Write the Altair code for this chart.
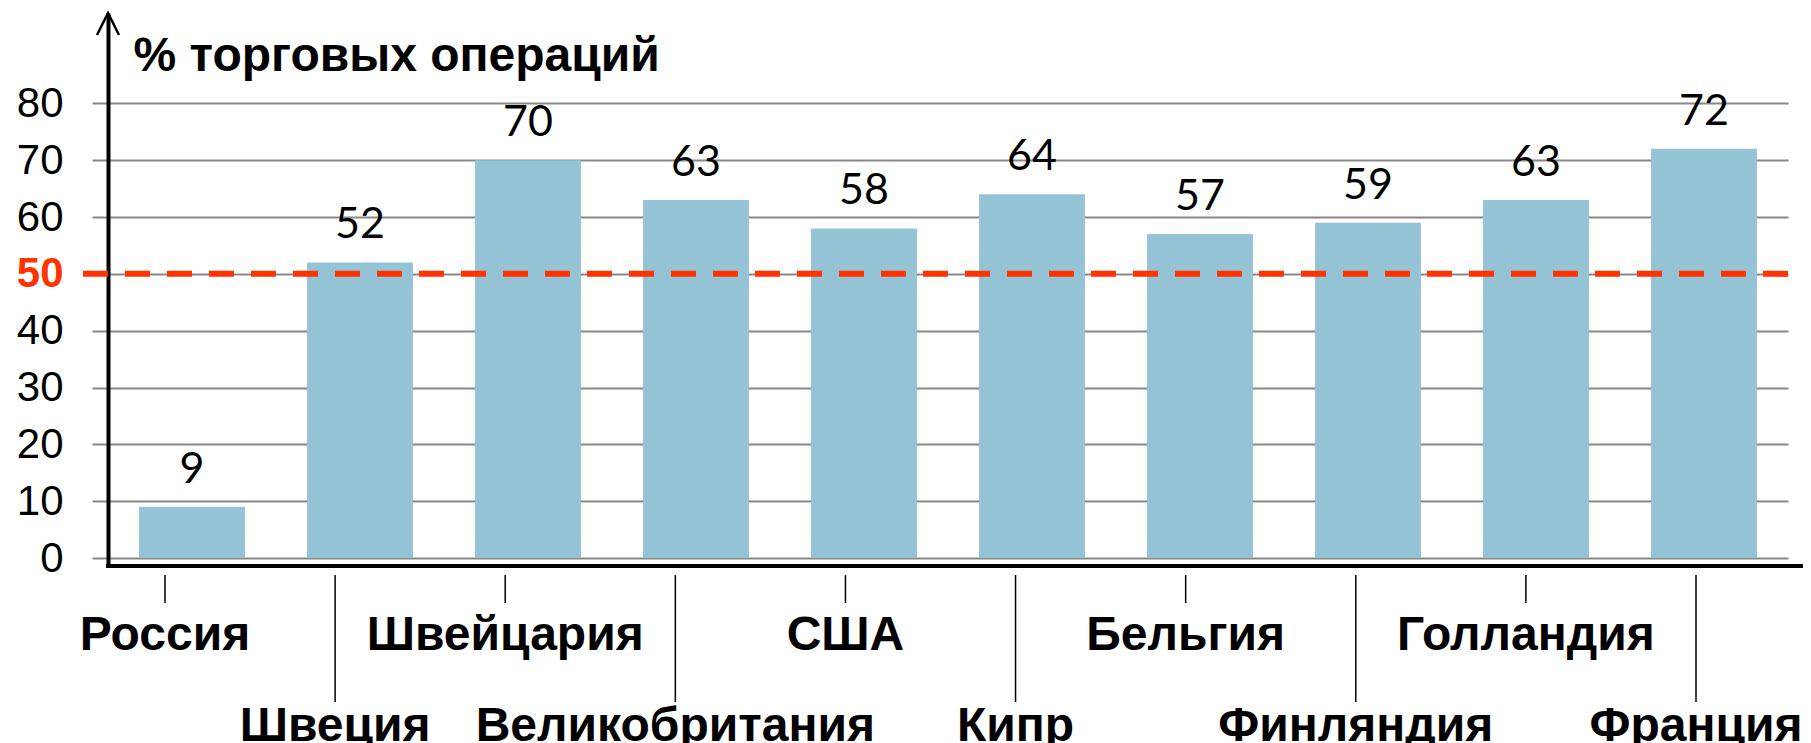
import altair as alt
import pandas as pd

countries = ["Россия", "Швеция", "Швейцария", "Великобритания", "США",
             "Кипр", "Бельгия", "Финляндия", "Голландия", "Франция"]
values = [9, 52, 70, 63, 58, 64, 57, 59, 63, 72]
label_rows = [1, 2, 1, 2, 1, 2, 1, 2, 1, 2]
y_ticks = [0, 10, 20, 30, 40, 50, 60, 70, 80]
threshold = [50]
y_title = "% торговых операций"

df = pd.DataFrame({"country": countries, "value": values, "row": label_rows})
thr = pd.DataFrame({"value": threshold})
one = pd.DataFrame({"k": [0]})

W, H = 1680, 552
BAR = "#93C3D5"
RED = "#FF3300"
LABEL_FONT = "Liberation Sans"

xscale = alt.Scale(domain=countries, paddingInner=0.37, paddingOuter=0.185)
# category ticks / names sit on a slightly wider, hand-drawn spacing
tick_scale = alt.Scale(type="point", domain=countries, range=[57, 1588], padding=0)
yscale = alt.Scale(domain=[-1.23, 95.9], nice=False, zero=False)

yaxis = alt.Axis(
    values=y_ticks, grid=True, gridColor="#888888", gridWidth=2,
    ticks=True, tickSize=16, tickColor="#888888", tickWidth=2,
    domain=True, domainColor="black", domainWidth=4,
    labelFont="Liberation Sans", labelFontSize=42, labelPadding=29,
    labelColor=alt.condition("datum.value == 50", alt.value(RED), alt.value("black")),
    labelFontWeight=alt.condition("datum.value == 50", alt.value("bold"), alt.value("normal")),
    labelBaseline="middle",
    title=y_title, titleAngle=0, titleAlign="left", titleBaseline="alphabetic",
    titleX=25, titleY=57, titleFont="Liberation Sans", titleFontSize=48,
    titleFontWeight="bold", titleColor="black",
)

X = alt.X("country:N", scale=xscale, axis=None, sort=countries)
XT = alt.X("country:N", scale=tick_scale, axis=None, sort=countries)
Y = alt.Y("value:Q", scale=yscale, axis=yaxis)

base = alt.Chart(df)

bars = base.mark_bar(color=BAR).encode(x=X, y=Y)

vals = base.mark_text(font="Lato", fontSize=43, baseline="alphabetic", dy=-24,
                      color="black").encode(x=X, y=Y, text="value:Q")

thr_rule = alt.Chart(thr).mark_rule(color=RED, strokeWidth=6, strokeDash=[25, 17]).encode(
    y=Y, x=alt.value(-25), x2=alt.value(W))

x_line = alt.Chart(one).mark_rule(color="black", strokeWidth=4).encode(
    x=alt.value(-2), x2=alt.value(W + 40), y=alt.value(H + 1))

arrow = alt.Chart(one).mark_point(
    shape="M -0.5 1 L 0 0 L 0.5 1", filled=False, stroke="black",
    strokeWidth=2.5, size=1936, opacity=1).encode(x=alt.value(0), y=alt.value(0))

ticks1 = base.transform_filter("datum.row == 1").mark_rule(color="black", strokeWidth=1.5).encode(
    x=XT, y=alt.value(H + 10), y2=alt.value(590))
ticks2 = base.transform_filter("datum.row == 2").mark_rule(color="black", strokeWidth=1.5).encode(
    x=XT, y=alt.value(H + 10), y2=alt.value(689))

lab1 = base.transform_filter("datum.row == 1").mark_text(
    font=LABEL_FONT, fontSize=48, fontWeight="bold", baseline="alphabetic",
    color="black").encode(x=XT, y=alt.value(637), text="country:N")
lab2 = base.transform_filter("datum.row == 2").mark_text(
    font=LABEL_FONT, fontSize=48, fontWeight="bold", baseline="alphabetic",
    color="black").encode(x=XT, y=alt.value(728), text="country:N")

chart = alt.layer(bars, vals, thr_rule, ticks1, ticks2, lab1, lab2, x_line, arrow).resolve_scale(
    x="independent"
).properties(
    width=W, height=H,
    autosize=alt.AutoSizeParams(type="none"),
    padding={"left": 100, "top": 5, "right": 15, "bottom": 178},
).configure_view(stroke=None)

chart.save("out.html", embed_options={"renderer": "svg", "actions": False})
